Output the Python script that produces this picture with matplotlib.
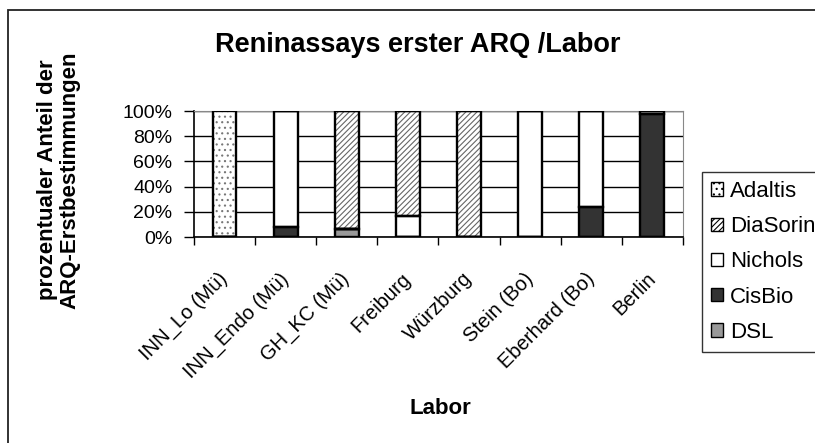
import matplotlib
matplotlib.use('Agg')
import matplotlib.pyplot as plt
import numpy as np
from matplotlib.patches import Rectangle

plt.rcParams['font.family'] = ['Liberation Sans', 'DejaVu Sans']
plt.rcParams['hatch.linewidth'] = 0.8

labs = ['INN_Lo (Mü)', 'INN_Endo (Mü)', 'GH_KC (Mü)', 'Freiburg', 'Würzburg',
        'Stein (Bo)', 'Eberhard (Bo)', 'Berlin']
# Anteile in %, gestapelt von unten nach oben
dsl      = [0, 0, 6, 0, 0, 0, 0, 0]
cisbio   = [0, 8, 0, 0, 0, 0, 24, 98]
nichols  = [0, 92, 0, 17, 0, 100, 76, 2]
diasorin = [0, 0, 94, 83, 100, 0, 0, 0]
adaltis  = [100, 0, 0, 0, 0, 0, 0, 0]

series = [
    ('DSL', dsl, '#999999', None, '#555555'),
    ('CisBio', cisbio, '#333333', None, '#333333'),
    ('Nichols', nichols, 'white', None, 'black'),
    ('DiaSorin', diasorin, 'white', '//////', '#666666'),
    ('Adaltis', adaltis, 'white', '...', '#777777'),
]

fig = plt.figure(figsize=(8.15, 4.43), dpi=100)
# Diagrammrahmen (rechts/unten abgeschnitten)
fig.patches.append(Rectangle((8 / 815, -0.2), 1.5, 1.2 - 10 / 443,
                             transform=fig.transFigure, fill=False,
                             ec='#222222', lw=1.3))
ax = fig.add_axes([0.238, 0.465, 0.600, 0.2844])

x = np.arange(len(labs))
bottom = np.zeros(len(labs))
handles = {}
for name, vals, fc, hatch, hc in series:
    v = np.array(vals, dtype=float)
    bars = ax.bar(x, v, bottom=bottom, width=0.39, color=fc, hatch=hatch,
                  edgecolor=hc, lw=0.0, zorder=3)
    ax.bar(x, v, bottom=bottom, width=0.39, fill=False, edgecolor='black',
           lw=1.7, zorder=4)
    handles[name] = bars
    bottom += v

ax.set_xlim(-0.5, len(labs) - 0.5)
ax.set_ylim(0, 100)
ax.set_yticks(np.arange(0, 101, 20))
ax.set_yticklabels([f'{t}%' for t in range(0, 101, 20)], fontsize=14)
ax.yaxis.grid(True, color='black', lw=1.0, zorder=0)
ax.set_xticks(np.arange(len(labs) + 1) - 0.5)
ax.set_xticklabels([])
ax.set_xticks(x, minor=True)
ax.set_xticklabels(labs, minor=True, rotation=45, ha='right', va='center',
                   rotation_mode='anchor', fontsize=14.5)
ax.tick_params(axis='x', which='minor', length=0, pad=28)
ax.tick_params(axis='x', which='major', length=6, color='black', width=1)
ax.tick_params(axis='y', length=7, width=1, pad=8.5)
for s in ['top', 'right']:
    ax.spines[s].set_color('#888888')
ax.spines['left'].set_linewidth(1.2)
ax.spines['bottom'].set_linewidth(1.2)

fig.text(0.512, 0.898, 'Reninassays erster ARQ /Labor', ha='center', va='center',
         fontsize=19.5, fontweight='bold')
fig.text(0.0724, 0.594, 'prozentualer Anteil der\nARQ-Erstbestimmungen', ha='center',
         va='center', rotation=90, fontsize=16, fontweight='bold', linespacing=1.08)
fig.text(0.540, 0.077, 'Labor', ha='center', va='center', fontsize=16,
         fontweight='bold')

order = ['Adaltis', 'DiaSorin', 'Nichols', 'CisBio', 'DSL']
leg = fig.legend([handles[n] for n in order], order, loc='upper left',
                 bbox_to_anchor=(702 / 815, 1 - 172 / 443), fontsize=16,
                 frameon=True, fancybox=False, edgecolor='black',
                 handlelength=0.55, handleheight=0.55, handletextpad=0.3,
                 labelspacing=0.64, borderpad=0.4, borderaxespad=0)
leg.get_frame().set_linewidth(1.0)
for h in leg.legend_handles:
    h.set_linewidth(1.0)
    h.set_edgecolor('black')

fig.savefig('out.png', dpi=100)
